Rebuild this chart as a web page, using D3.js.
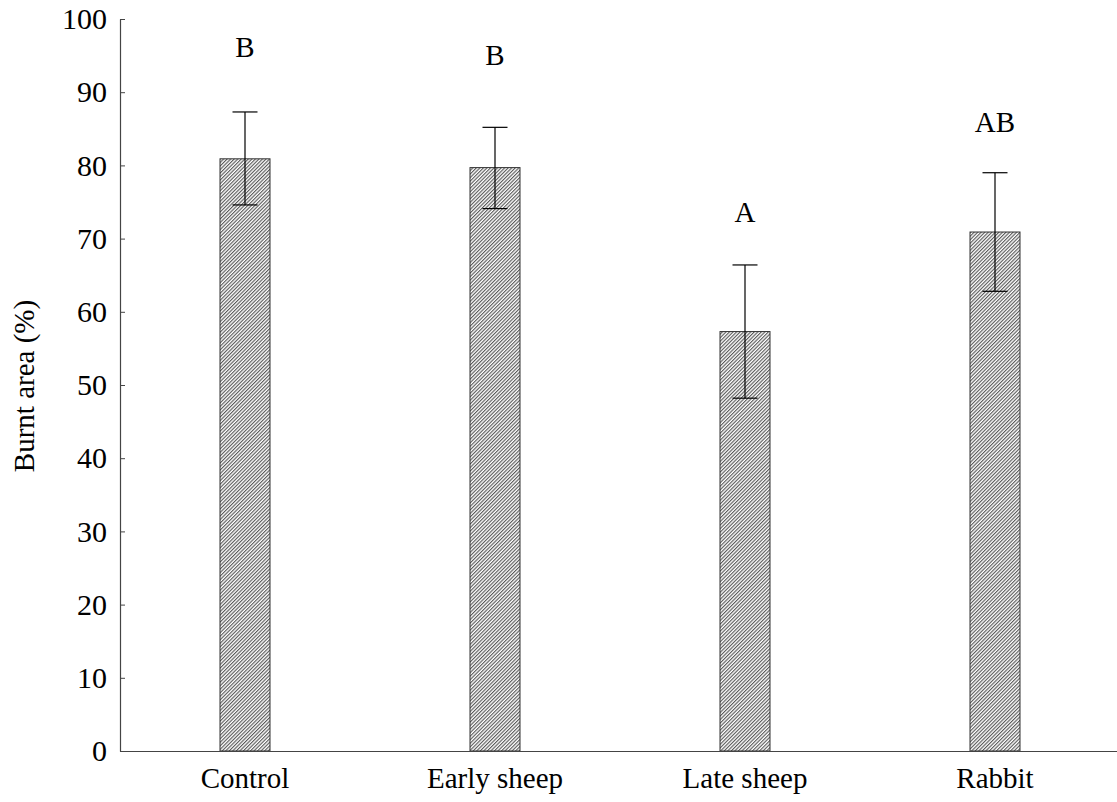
<!DOCTYPE html>
<html>
<head>
<meta charset="utf-8">
<script src="https://cdn.jsdelivr.net/npm/d3@7"></script>
<style>
  body { margin: 0; background: #fff; }
  svg text { font-family: "Liberation Serif", "Times New Roman", Times, "DejaVu Serif", serif !important; fill: #000; }
</style>
</head>
<body>
<div class="root"></div>
<script>
var categories = ['Control', 'Early sheep', 'Late sheep', 'Rabbit'];
var means = [80.9, 79.7, 57.3, 70.9];
var lower = [74.6, 74.1, 48.2, 62.8];
var upper = [87.3, 85.2, 66.4, 79.0];
var letters = ['B', 'B', 'A', 'AB'];
var letterPos = [96.2, 95.1, 73.6, 86.0];
var yTicks = [0, 10, 20, 30, 40, 50, 60, 70, 80, 90, 100];

var serif = '"Liberation Serif", "Times New Roman", Times, "DejaVu Serif", serif';

function drawChart() {
  var w = 1117, h = 802;
  var left = 120, top = 19, bottom = 751, right = 1120;

  var svg = d3.select('.root').append('svg')
    .attr('width', w)
    .attr('height', h)
    .style('font-family', serif);

  var defs = svg.append('defs');
  var pat = defs.append('pattern')
    .attr('id', 'hatch')
    .attr('patternUnits', 'userSpaceOnUse')
    .attr('width', 2.5)
    .attr('height', 2.5)
    .attr('patternTransform', 'rotate(45)');
  pat.append('rect').attr('width', 2.5).attr('height', 2.5).attr('fill', '#fff');
  pat.append('line')
    .attr('x1', 0.6).attr('y1', 0).attr('x2', 0.6).attr('y2', 2.5)
    .attr('stroke', '#444').attr('stroke-width', 1);

  var x = d3.scaleBand()
    .domain(categories)
    .range([left, right]);

  var y = d3.scaleLinear()
    .domain([0, 100])
    .range([bottom, top]);

  var barW = 50;

  // bars
  svg.append('g')
    .selectAll('rect')
    .data(categories)
    .enter().append('rect')
      .attr('x', function(d) { return x(d) + x.bandwidth() / 2 - barW / 2; })
      .attr('y', function(d, i) { return y(means[i]); })
      .attr('width', barW)
      .attr('height', function(d, i) { return y(0) - y(means[i]); })
      .attr('fill', 'url(#hatch)')
      .attr('stroke', '#333')
      .attr('stroke-width', 1);

  // error bars
  var err = svg.append('g').attr('stroke', '#000').attr('stroke-width', 1.2);
  categories.forEach(function(c, i) {
    var cx = x(c) + x.bandwidth() / 2;
    err.append('line')
      .attr('x1', cx).attr('x2', cx)
      .attr('y1', y(lower[i])).attr('y2', y(upper[i]));
    err.append('line')
      .attr('x1', cx - 12.5).attr('x2', cx + 12.5)
      .attr('y1', y(upper[i])).attr('y2', y(upper[i]));
    err.append('line')
      .attr('x1', cx - 12.5).attr('x2', cx + 12.5)
      .attr('y1', y(lower[i])).attr('y2', y(lower[i]));
  });

  // significance letters
  svg.append('g')
    .selectAll('text')
    .data(categories)
    .enter().append('text')
      .attr('x', function(d) { return x(d) + x.bandwidth() / 2; })
      .attr('y', function(d, i) { return y(letterPos[i]); })
      .attr('text-anchor', 'middle')
      .attr('dy', '0.35em')
      .style('font-size', '29px')
      .text(function(d, i) { return letters[i]; });

  // y axis
  var yAxis = d3.axisLeft(y)
    .tickValues(yTicks)
    .tickSizeInner(-5)
    .tickSizeOuter(0)
    .tickPadding(13);

  var gy = svg.append('g')
    .attr('transform', 'translate(' + left + ',0)')
    .call(yAxis)
    .attr('font-family', null)
    .attr('font-size', null);
  gy.select('.domain').attr('stroke', '#444').attr('stroke-width', 1.2);
  gy.selectAll('.tick line').attr('stroke', '#444');
  gy.selectAll('.tick text')
    .style('font-size', '30px');

  // x axis
  var xAxis = d3.axisBottom(x).tickSize(0).tickPadding(16);
  var gx = svg.append('g')
    .attr('transform', 'translate(0,' + bottom + ')')
    .call(xAxis)
    .attr('font-family', null)
    .attr('font-size', null);
  gx.select('.domain').attr('stroke', '#444').attr('stroke-width', 1.2);
  gx.selectAll('.tick text')
    .style('font-size', '29px');

  // y label
  svg.append('text')
    .attr('transform', 'translate(24,386) rotate(-90)')
    .attr('text-anchor', 'middle')
    .attr('dy', '0.35em')
    .style('font-size', '29px')
    .text('Burnt area (%)');
}

window.onload = function() {
  drawChart();
};
</script>
</body>
</html>
